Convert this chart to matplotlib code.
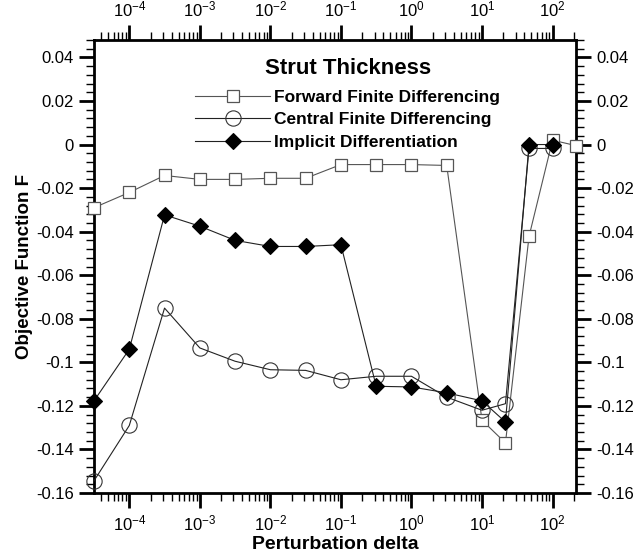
import matplotlib
matplotlib.use("Agg")
import matplotlib.pyplot as plt
import numpy as np
from matplotlib.ticker import FixedLocator, MultipleLocator, FuncFormatter, NullFormatter

plt.rcParams['font.family'] = ['Liberation Sans', 'DejaVu Sans']
plt.rcParams['mathtext.fontset'] = 'custom'
plt.rcParams['mathtext.rm'] = 'Liberation Sans'
plt.rcParams['mathtext.it'] = 'Liberation Sans'
plt.rcParams['mathtext.bf'] = 'Liberation Sans:bold'

# Data
delta_fwd = [3.16e-5, 1e-4, 3.16e-4, 1e-3, 3.16e-3, 1e-2, 3.16e-2, 1e-1, 3.16e-1, 1.0, 3.16, 10.0, 21.5, 46.4, 100.0, 215.0]
F_fwd = [-0.029, -0.022, -0.0142, -0.016, -0.016, -0.0155, -0.0155, -0.0092, -0.0092, -0.0092, -0.0096, -0.1266, -0.137, -0.0422, 0.002, -0.0005]

delta_cen = [3.16e-5, 1e-4, 3.16e-4, 1e-3, 3.16e-3, 1e-2, 3.16e-2, 1e-1, 3.16e-1, 1.0, 3.16, 10.0, 21.5, 46.4, 100.0]
F_cen = [-0.1544, -0.129, -0.0751, -0.0934, -0.0995, -0.1034, -0.1037, -0.108, -0.1064, -0.1064, -0.116, -0.122, -0.119, -0.0018, -0.0018]

delta_imp = [3.16e-5, 1e-4, 3.16e-4, 1e-3, 3.16e-3, 1e-2, 3.16e-2, 1e-1, 3.16e-1, 1.0, 3.16, 10.0, 21.5, 46.4, 100.0]
F_imp = [-0.1177, -0.094, -0.0323, -0.0375, -0.044, -0.0468, -0.0468, -0.046, -0.111, -0.1113, -0.114, -0.1177, -0.1274, 0.0, 0.0]

labels = ['Forward Finite Differencing', 'Central Finite Differencing', 'Implicit Differentiation']
title = 'Strut Thickness'
xlabel = 'Perturbation delta'
ylabel = 'Objective Function F'
x_major = [1e-4, 1e-3, 1e-2, 1e-1, 1e0, 1e1, 1e2]
x_major_labels = ['$10^{-4}$', '$10^{-3}$', '$10^{-2}$', '$10^{-1}$', '$10^{0}$', '$10^{1}$', '$10^{2}$']
y_major = [-0.16, -0.14, -0.12, -0.1, -0.08, -0.06, -0.04, -0.02, 0, 0.02, 0.04]

fig = plt.figure(figsize=(6.36, 5.55), dpi=100)
ax = fig.add_axes([94/636, 1-493/555, (576-94)/636, (493-40)/555])

ax.plot(delta_fwd, F_fwd, color='#555555', lw=0.8, marker='s', ms=8, mfc='white', mec='#555555', mew=0.9, label=labels[0], clip_on=False, zorder=3)
ax.plot(delta_cen, F_cen, color='#222222', lw=0.8, marker='o', ms=11, mfc='none', mec='#333333', mew=0.8, label=labels[1], clip_on=False, zorder=3)
ax.plot(delta_imp, F_imp, color='#222222', lw=0.8, marker='D', ms=8.5, mfc='black', mec='black', mew=0.8, label=labels[2], clip_on=False, zorder=4)

ax.set_xscale('log')
ax.set_xlim(3.16e-5, 215)
ax.set_ylim(-0.16, 0.048)

minors = [m * 10.0**e for e in range(-5, 3) for m in range(2, 10)]
minors = [v for v in minors if 3.16e-5 <= v <= 215]
ax.xaxis.set_major_locator(FixedLocator(x_major))
ax.xaxis.set_major_formatter(FuncFormatter(lambda v, p: x_major_labels[x_major.index(min(x_major, key=lambda t: abs(np.log10(t) - np.log10(v))))]))
ax.xaxis.set_minor_locator(FixedLocator(minors))
ax.xaxis.set_minor_formatter(NullFormatter())
ax.yaxis.set_major_locator(FixedLocator(y_major))
ax.yaxis.set_minor_locator(MultipleLocator(0.004))
ax.yaxis.set_major_formatter(FuncFormatter(lambda v, p: '0' if abs(v) < 1e-9 else ('%g' % v)))

ax.tick_params(which='both', direction='out', top=True, right=True, labeltop=True, labelright=True, labelsize=12)
ax.tick_params(which='major', length=11, width=2)
ax.tick_params(which='minor', length=6, width=1)
for s in ax.spines.values():
    s.set_linewidth(2)

ax.set_xlabel(xlabel, fontsize=14, fontweight='bold', labelpad=2)
ax.set_ylabel(ylabel, fontsize=13.5, fontweight='bold', labelpad=2)

ax.text(0.527, 0.938, title, transform=ax.transAxes, ha='center', va='center',
        fontsize=16, fontweight='bold')
leg = ax.legend(loc='upper center', bbox_to_anchor=(0.526, 0.917), frameon=False,
                prop={'size': 12.5, 'weight': 'bold'}, handlelength=4.3, handletextpad=0.2,
                labelspacing=0.42, borderpad=0.2)

fig.savefig('out.png', dpi=100)
